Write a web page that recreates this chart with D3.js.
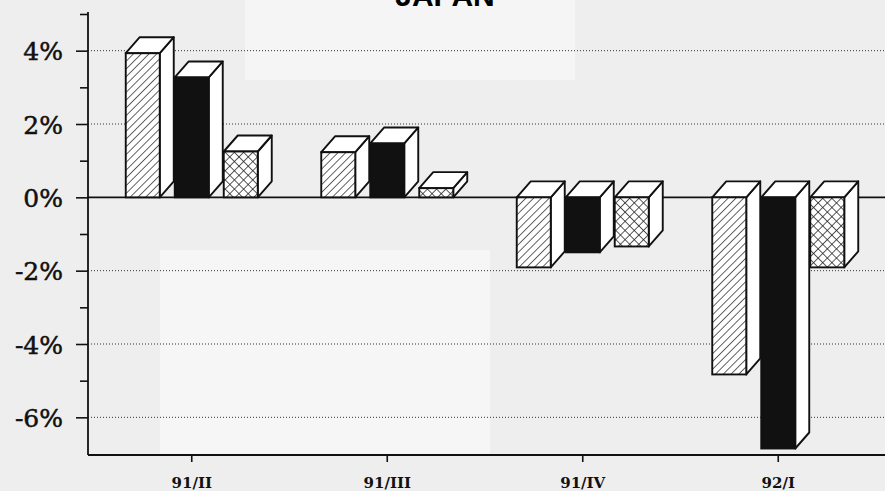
<!DOCTYPE html>
<html>
<head>
<meta charset="utf-8">
<script src="https://cdn.jsdelivr.net/npm/d3@7"></script>
<style>
  body { margin: 0; background: #eeeeee; }
  svg { display: block; }
</style>
</head>
<body>
<div class="chart"></div>
<script>
// quarters and the three series (no legend in the original)
var categories = ["91/II", "91/III", "91/IV", "92/I"];
var seriesA = [3.93, 1.23, -1.91, -4.83];   // hatched
var seriesB = [3.27, 1.47, -1.50, -6.85];   // black
var seriesC = [1.25, 0.25, -1.34, -1.91];   // cross hatched
var majorTicks = [-6, -4, -2, 0, 2, 4];
var minorTicks = [-5, -3, -1, 1, 3, 5];
var title = "JAPAN";

var width = 885, height = 491;
var depthX = 14, depthY = -16;

var svg = d3.select(".chart").append("svg")
    .attr("width", width)
    .attr("height", height);

svg.append("rect")
    .attr("width", width).attr("height", height)
    .attr("fill", "#eeeeee");

// scan blotches
svg.append("rect").attr("x", 160).attr("y", 250).attr("width", 330).attr("height", 205).attr("fill", "#f6f6f6");
svg.append("rect").attr("x", 245).attr("y", 0).attr("width", 330).attr("height", 80).attr("fill", "#f5f5f5");

var defs = svg.append("defs");
var hatch = defs.append("pattern")
    .attr("id", "hatch")
    .attr("patternUnits", "userSpaceOnUse")
    .attr("width", 5.5).attr("height", 5.5)
    .attr("patternTransform", "rotate(45)");
hatch.append("rect").attr("width", 5.5).attr("height", 5.5).attr("fill", "#fff");
hatch.append("line").attr("x1", 0).attr("y1", 0).attr("x2", 0).attr("y2", 5.5)
    .attr("stroke", "#222").attr("stroke-width", 1.4);

var cross = defs.append("pattern")
    .attr("id", "cross")
    .attr("patternUnits", "userSpaceOnUse")
    .attr("width", 6.5).attr("height", 6.5)
    .attr("patternTransform", "rotate(45)");
cross.append("rect").attr("width", 6.5).attr("height", 6.5).attr("fill", "#fff");
cross.append("line").attr("x1", 0).attr("y1", 0).attr("x2", 0).attr("y2", 6.5)
    .attr("stroke", "#222").attr("stroke-width", 1.5);
cross.append("line").attr("x1", 0).attr("y1", 0).attr("x2", 6.5).attr("y2", 0)
    .attr("stroke", "#222").attr("stroke-width", 1.5);

var fills = ["url(#hatch)", "#111", "url(#cross)"];
var series = [seriesA, seriesB, seriesC];

var axisX = 88;
var y = d3.scaleLinear().domain([-7, 5]).range([454, 14]);
var x0 = d3.scaleBand().domain(categories).range([94, 876]);
var x1 = d3.scaleBand().domain([0, 1, 2]).range([-66, 66]).paddingInner(0.306);

// title, cut off at the top edge as in the scan
svg.append("text")
    .attr("x", 445).attr("y", 6)
    .attr("text-anchor", "middle")
    .attr("font-family", "Liberation Sans")
    .attr("font-weight", "bold")
    .attr("font-size", 30)
    .text(title);

// dotted grid
svg.selectAll(".grid").data(majorTicks.filter(function (d) { return d != 0; }))
    .enter().append("line")
    .attr("class", "grid")
    .attr("x1", axisX).attr("x2", width)
    .attr("y1", function (d) { return y(d); })
    .attr("y2", function (d) { return y(d); })
    .attr("stroke", "#333")
    .attr("stroke-width", 1)
    .attr("stroke-dasharray", "1,2");

// zero line
svg.append("line")
    .attr("x1", axisX).attr("x2", width)
    .attr("y1", y(0)).attr("y2", y(0))
    .attr("stroke", "#111").attr("stroke-width", 1.6);

// y axis
var yAxis = svg.append("g")
    .attr("transform", "translate(" + axisX + ",0)")
    .call(d3.axisLeft(y)
        .tickValues(majorTicks)
        .tickSize(12)
        .tickPadding(13)
        .tickFormat(function (d) { return d + "%"; }));
yAxis.select(".domain").attr("stroke", "#111").attr("stroke-width", 1.8)
    .attr("d", "M0," + (y(5) - 2) + "V" + (y(-7) + 1));
yAxis.selectAll("line").attr("stroke", "#111").attr("stroke-width", 1.6);
yAxis.selectAll("text")
    .attr("font-family", "DejaVu Serif")
    .attr("font-size", 25)
    .attr("fill", "#111")
    .attr("stroke", "#111")
    .attr("stroke-width", 0.5)
    .attr("dy", "0.36em");

var yMinor = svg.append("g")
    .attr("transform", "translate(" + axisX + ",0)")
    .call(d3.axisLeft(y).tickValues(minorTicks).tickSize(8).tickFormat(""));
yMinor.select(".domain").remove();
yMinor.selectAll("line").attr("stroke", "#111").attr("stroke-width", 1.6);

// x axis
var xAxis = svg.append("g")
    .attr("transform", "translate(0," + (y(-7) + 1) + ")")
    .call(d3.axisBottom(x0).tickSize(7).tickPadding(15));
xAxis.select(".domain").attr("stroke", "#111").attr("stroke-width", 1.8)
    .attr("d", "M" + axisX + ",0H" + width);
xAxis.selectAll("line").attr("stroke", "#111").attr("stroke-width", 1.6);
xAxis.selectAll("text")
    .attr("font-family", "DejaVu Serif")
    .attr("font-weight", "bold")
    .attr("font-size", 15)
    .attr("fill", "#111");

// 3d bars
var bars = [];
categories.forEach(function (c, i) {
    series.forEach(function (s, j) {
        bars.push({ cat: c, s: j, value: s[i] });
    });
});

var y0 = y(0);
var g = svg.append("g").attr("class", "bars");
bars.forEach(function (d) {
    var bx = x0(d.cat) + x0.bandwidth() / 2 + x1(d.s);
    var w = x1.bandwidth();
    var yv = y(d.value);
    var top = Math.min(yv, y0), bottom = Math.max(yv, y0);
    var b = g.append("g");
    // side face
    b.append("path")
        .attr("d", "M" + (bx + w) + "," + top +
            "L" + (bx + w + depthX) + "," + (top + depthY) +
            "L" + (bx + w + depthX) + "," + (bottom + depthY) +
            "L" + (bx + w) + "," + bottom + "Z")
        .attr("fill", "#fff").attr("stroke", "#111").attr("stroke-width", 1.9)
        .attr("stroke-linejoin", "round");
    // top face
    b.append("path")
        .attr("d", "M" + bx + "," + top +
            "L" + (bx + depthX) + "," + (top + depthY) +
            "L" + (bx + w + depthX) + "," + (top + depthY) +
            "L" + (bx + w) + "," + top + "Z")
        .attr("fill", "#fff").attr("stroke", "#111").attr("stroke-width", 1.9)
        .attr("stroke-linejoin", "round");
    // front face
    b.append("rect")
        .attr("x", bx).attr("y", top)
        .attr("width", w).attr("height", bottom - top)
        .attr("fill", fills[d.s])
        .attr("stroke", "#111").attr("stroke-width", 1.9);
});
</script>
</body>
</html>
